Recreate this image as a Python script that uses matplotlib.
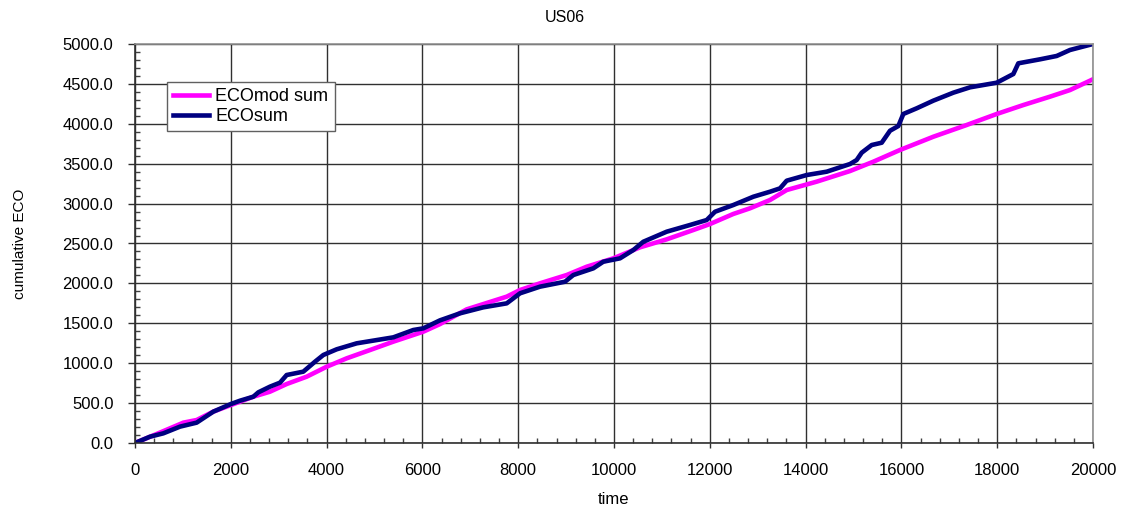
import numpy as np
import matplotlib.pyplot as plt
from matplotlib.ticker import MultipleLocator, FormatStrFormatter

plt.rcParams['font.family'] = ['Liberation Sans', 'DejaVu Sans']

# cumulative ECO over time, two variants
time_sum = [0, 313, 591, 939, 1287, 1635, 2004, 2192, 2470, 2575, 2818, 3027,
            3166, 3514, 3758, 3932, 4210, 4628, 5393, 5810, 6019, 6367, 6785,
            7271, 7760, 8038, 8455, 8977, 9151, 9569, 9777, 10125, 10403,
            10612, 11100, 11587, 11935, 12109, 12490, 12908, 13257, 13466,
            13605, 14023, 14441, 14927, 15066, 15171, 15380, 15589, 15762,
            15936, 16040, 16319, 16667, 17084, 17432, 17990, 18337, 18441,
            18894, 19242, 19520, 20000]
eco_sum = [0, 79, 121, 205, 255, 393, 489, 530, 580, 635, 706, 756,
           852, 894, 1019, 1103, 1174, 1249, 1324, 1416, 1437, 1537, 1625,
           1700, 1750, 1876, 1959, 2021, 2105, 2189, 2272, 2314, 2418,
           2522, 2648, 2732, 2794, 2898, 2982, 3086, 3149, 3191,
           3287, 3358, 3400, 3496, 3546, 3638, 3734, 3763, 3913,
           3972, 4123, 4194, 4290, 4390, 4457, 4515, 4624, 4758,
           4808, 4850, 4925, 5000]

time_mod = [0, 452, 1009, 1287, 1635, 2004, 2470, 2818, 3166, 3584, 4002,
            4419, 4906, 5393, 6019, 6367, 6925, 7760, 8038, 8455, 9012,
            9430, 9986, 10543, 11100, 11656, 12004, 12490, 12839, 13257,
            13605, 14232, 14927, 15414, 15971, 16667, 17363, 17990, 18545,
            19102, 19520, 20000]
eco_mod = [0, 113, 255, 288, 393, 476, 580, 643, 739, 831, 956,
           1061, 1165, 1270, 1395, 1490, 1675, 1834, 1917, 2001, 2105,
           2209, 2314, 2452, 2552, 2669, 2744, 2870, 2941, 3045,
           3170, 3275, 3408, 3525, 3672, 3838, 3985, 4123, 4235,
           4340, 4423, 4558]

fig = plt.figure(figsize=(11.29, 5.12), dpi=100)
ax = fig.add_axes([135 / 1129, 69 / 512, 958 / 1129, 399 / 512])

ax.plot(time_mod, eco_mod, color='#ff00ff', lw=3.3, label='ECOmod sum',
        solid_joinstyle='round')
ax.plot(time_sum, eco_sum, color='#000080', lw=3.3, label='ECOsum',
        solid_joinstyle='round')

ax.set_xlim(0, 20000)
ax.set_ylim(0, 5000)
ax.xaxis.set_major_locator(MultipleLocator(2000))
ax.xaxis.set_minor_locator(MultipleLocator(400))
ax.yaxis.set_major_locator(MultipleLocator(500))
ax.yaxis.set_minor_locator(MultipleLocator(100))
ax.yaxis.set_major_formatter(FormatStrFormatter('%.1f'))

ax.grid(True, which='major', color='#303030', lw=1.0)
ax.set_axisbelow(True)
for side in ('left', 'bottom'):
    ax.spines[side].set_color('#303030')
for side in ('top', 'right'):
    ax.spines[side].set_color('#909090')
for s in ax.spines.values():
    s.set_linewidth(1.2)

ax.tick_params(axis='x', which='major', direction='out', length=3.6, width=1,
               color='#303030', labelsize=12, pad=10.5)
ax.tick_params(axis='y', which='major', direction='out', length=5, width=1,
               color='#303030', labelsize=12, pad=10.5)
ax.tick_params(which='minor', direction='in', length=3.6, width=1,
               color='#404040')

fig.text(0.5, 1 - 17 / 512, 'US06', ha='center', va='center', fontsize=11.5)
ax.set_xlabel('time', fontsize=12, va='center')
ax.xaxis.set_label_coords(0.5, -(500 - 443) / 399)
ax.set_ylabel('cumulative ECO', fontsize=11)
ax.yaxis.set_label_coords(-(135 - 27) / 958, 0.5)

leg = ax.legend(loc='upper left', bbox_to_anchor=(0.033, 0.905),
                fontsize=13, frameon=True, fancybox=False,
                handlelength=2.0, handletextpad=0.35, borderpad=0.35,
                labelspacing=0.15, borderaxespad=0)
leg.get_frame().set_edgecolor('#606060')
leg.get_frame().set_linewidth(1.0)
leg.get_frame().set_alpha(1.0)

fig.savefig('out.png', dpi=100)
